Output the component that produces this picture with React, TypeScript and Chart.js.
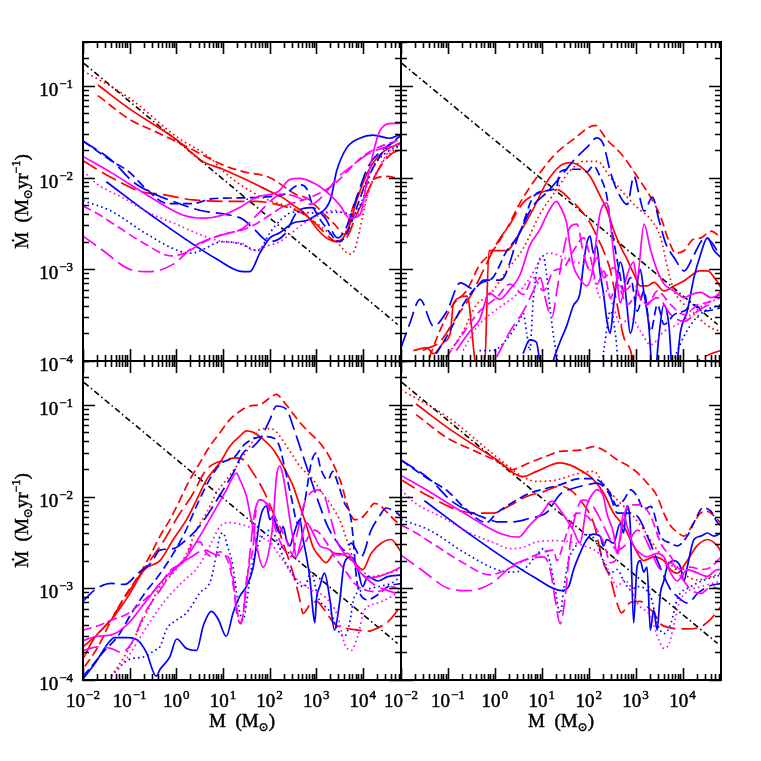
import React, { useEffect, useRef } from "react";
import { Chart, registerables } from "chart.js";
Chart.register(...registerables);

// ---------- axes ----------
const X_MIN = 0.01;
const X_MAX = 66000;
const Y_MIN = 1e-4;
const Y_MAX = 0.3;
const xMajorTicks = [0.01, 0.1, 1, 10, 100, 1000, 10000];
const xTickExps = ["\u22122", "\u22121", "0", "1", "2", "3", "4"];
const yMajorTicks = [1e-4, 1e-3, 1e-2, 1e-1];
const yTickExps = ["\u22124", "\u22123", "\u22122", "\u22121"];

// reference power-law line (black dash-dot), same in every panel
const refLine: [number, number][] = [[0.0105, 0.175], [56000, 0.00025]];

// ---------- top-left panel ----------
const tlRedDotted: [number, number][] = [[0.01, 0.146], [0.1, 0.073], [1, 0.028], [5.6, 0.016], [10, 0.0118], [29, 0.0078], [100, 0.0056], [300, 0.0047], [780, 0.0035], [2000, 0.0024], [4050, 0.0016], [5000, 0.00146], [6600, 0.0016], [8600, 0.0027], [12800, 0.0066], [27300, 0.015], [52600, 0.021], [66000, 0.023]];
const tlRedSolid: [number, number][] = [[0.021, 0.102], [0.1, 0.056], [1, 0.026], [3.7, 0.015], [10, 0.0123], [27, 0.0098], [100, 0.0071], [196, 0.006], [321, 0.005], [621, 0.0039], [1016, 0.0028], [1660, 0.0022], [2730, 0.002], [3790, 0.0022], [5260, 0.0031], [7300, 0.0055], [12000, 0.0107], [23100, 0.0177], [52600, 0.0228], [66000, 0.024]];
const tlRedDashed: [number, number][] = [[0.021, 0.078], [0.1, 0.043], [0.34, 0.032], [1.39, 0.0228], [10, 0.0137], [27, 0.0116], [100, 0.01], [379, 0.0065], [621, 0.006], [1280, 0.0043], [2470, 0.0031], [4050, 0.0024], [5260, 0.0037], [7300, 0.006], [15100, 0.0092], [32100, 0.0103], [66000, 0.0096]];
const tlRedLong: [number, number][] = [[0.01, 0.0152], [0.0405, 0.01], [0.178, 0.007], [0.44, 0.0066], [2.28, 0.0057], [13.9, 0.0055], [52.6, 0.0055], [164, 0.005], [447, 0.0042], [731, 0.0036], [1660, 0.0024], [2730, 0.002], [4470, 0.0022], [7300, 0.0039], [12000, 0.0066], [21000, 0.0118], [40500, 0.018], [66000, 0.0203]];
const tlBlueDashed: [number, number][] = [[0.01, 0.025], [0.0405, 0.0152], [0.1, 0.0114], [0.21, 0.0078], [0.663, 0.0052], [2.28, 0.0052], [6.1, 0.0059], [27, 0.006], [100, 0.0062], [196, 0.0065], [447, 0.0083], [621, 0.0076], [862, 0.0048], [1660, 0.0028], [3210, 0.002], [4470, 0.0024], [7300, 0.0046], [12000, 0.0091], [27300, 0.019], [56000, 0.027], [66000, 0.0285]];
const tlBlueLong: [number, number][] = [[0.01, 0.025], [0.0405, 0.0155], [0.118, 0.009], [0.268, 0.007], [0.849, 0.0055], [3.16, 0.0044], [13.9, 0.0039], [26.8, 0.0035], [47.7, 0.0027], [100, 0.002], [210, 0.0024], [405, 0.0043], [781, 0.0047], [1510, 0.0037], [2910, 0.0022], [4770, 0.0031], [7810, 0.0066], [12800, 0.0129], [24700, 0.0195], [66000, 0.027]];
const tlBlueSolid: [number, number][] = [[0.0316, 0.009], [0.268, 0.004], [7.2, 0.0013], [26.8, 0.00094], [37.9, 0.00094], [62, 0.0015], [102, 0.0022], [166, 0.0025], [321, 0.0032], [621, 0.0034], [1016, 0.0039], [1660, 0.0047], [2100, 0.0061], [2730, 0.0116], [4470, 0.0209], [8600, 0.0268], [16600, 0.029], [37900, 0.0268], [62000, 0.029], [66000, 0.029]];
const tlBlueDotted: [number, number][] = [[0.01, 0.0056], [0.0405, 0.0043], [0.21, 0.0025], [1.09, 0.0016], [2.1, 0.0015], [10, 0.002], [22.8, 0.0019], [56, 0.0016], [102, 0.0025], [178, 0.0035], [343, 0.0042], [1016, 0.0041], [2910, 0.0042], [6200, 0.004], [10200, 0.006], [15100, 0.0118], [29100, 0.018], [66000, 0.023]];
const tlMagSolid: [number, number][] = [[0.01, 0.017], [0.0405, 0.0113], [0.21, 0.0067], [1.39, 0.0039], [3.73, 0.0036], [10, 0.0039], [22.8, 0.0047], [52.6, 0.0061], [151, 0.007], [273, 0.0095], [447, 0.0098], [1016, 0.0084], [1960, 0.0065], [3210, 0.005], [5260, 0.0036], [8600, 0.0039], [12800, 0.01], [23100, 0.032], [44700, 0.039], [66000, 0.039]];
const tlMagDotted: [number, number][] = [[0.01, 0.0118], [0.02, 0.0085], [0.078, 0.0059], [0.268, 0.0041], [1, 0.0031], [3.16, 0.0024], [10, 0.002], [26.8, 0.0019], [44.7, 0.0016], [90, 0.0018], [166, 0.002], [273, 0.0024], [663, 0.0034], [1200, 0.0039], [2470, 0.0044], [5260, 0.0039], [8600, 0.004], [15100, 0.0085], [33000, 0.018], [66000, 0.025]];
const tlMagDashed: [number, number][] = [[0.01, 0.0049], [0.021, 0.004], [0.056, 0.0029], [0.21, 0.0019], [0.781, 0.0014], [1.51, 0.0015], [4.05, 0.002], [10, 0.0024], [26.8, 0.0027], [56.2, 0.0032], [109, 0.004], [210, 0.0049], [477, 0.0056], [1086, 0.0066], [2470, 0.0085], [4770, 0.0118], [9200, 0.0165], [21000, 0.0212], [66000, 0.026]];
const tlMagLong: [number, number][] = [[0.01, 0.0023], [0.0268, 0.0016], [0.1, 0.001], [0.268, 0.00094], [0.849, 0.00113], [2.47, 0.0018], [7.8, 0.0023], [26.8, 0.0028], [56.2, 0.004], [100, 0.0054], [178, 0.0066], [405, 0.0061], [781, 0.0051], [1510, 0.0066], [2910, 0.01], [6600, 0.014], [12800, 0.018], [29100, 0.0212], [66000, 0.023]];

// ---------- top-right panel ----------
const trRedDashed: [number, number][] = [[0.0405, 0.00011], [0.0663, 0.00021], [0.128, 0.00041], [0.247, 0.00058], [0.469, 0.0011], [0.906, 0.0016], [1.75, 0.0027], [3.38, 0.0052], [6.52, 0.0088], [17.5, 0.017], [46.9, 0.026], [140, 0.037], [175, 0.033], [243, 0.026], [469, 0.0186], [769, 0.0133], [1069, 0.0103], [2095, 0.0061], [3434, 0.0037], [5176, 0.002], [7197, 0.0015], [10860, 0.0016], [16380, 0.0021], [24700, 0.0022], [40460, 0.0026], [66000, 0.0022]];
const trRedSolid: [number, number][] = [[0.0184, 0.00013], [0.0355, 0.00014], [0.0493, 0.00012], [0.0807, 0.00016], [0.112, 0.0002], [0.132, 0.00043], [0.255, 0.00051], [0.42, 0.00008], [0.6, 0.00008], [0.75, 0.0016], [1.32, 0.0016], [1.75, 0.0016], [3.38, 0.0025], [6.52, 0.0045], [12.6, 0.0088], [24.3, 0.0133], [39.8, 0.0145], [65.2, 0.0133], [107, 0.0103], [175, 0.0063], [243, 0.0045], [338, 0.0027], [469, 0.0018], [652, 0.0013], [906, 0.0009], [1259, 0.00066], [1778, 0.00066], [2470, 0.00072], [4046, 0.00058], [6623, 0.00066], [10860, 0.00075], [15090, 0.00085], [22750, 0.00096], [34340, 0.00096], [47720, 0.00081], [66000, 0.00063]];
const trRedDotted: [number, number][] = [[0.092, 0.00011], [0.21, 0.00021], [0.405, 0.00041], [0.781, 0.00053], [1.78, 0.00096], [4.05, 0.0017], [9.2, 0.004], [17.8, 0.0066], [39.8, 0.0118], [78, 0.015], [151, 0.015], [291, 0.01], [663, 0.0061], [1086, 0.0047], [2095, 0.0035], [3434, 0.0022], [4772, 0.00104], [6623, 0.00058], [10860, 0.00041], [20950, 0.0003], [40460, 0.00023], [66000, 0.00021]];
const trRedLong: [number, number][] = [[0.0291, 0.00013], [0.0405, 0.00014], [0.0663, 0.00016], [0.151, 0.0003], [0.291, 0.00049], [0.562, 0.00096], [1.09, 0.0019], [2.1, 0.0031], [3.98, 0.0053], [9.06, 0.0068], [20.6, 0.0074], [39.8, 0.0058], [65.2, 0.0045], [107, 0.0032], [148, 0.0023], [206, 0.0016], [291, 0.00096], [405, 0.00041], [562, 0.00018], [781, 0.00013], [1086, 0.00006], [2095, 0.00006], [4046, 0.00009], [9205, 0.00006], [20950, 0.0001], [40460, 0.00012], [66000, 0.00013]];
const trBlueLong: [number, number][] = [[0.01, 0.00014], [0.0151, 0.00025], [0.0255, 0.00047], [0.0493, 0.00024], [0.0952, 0.00035], [0.184, 0.00071], [0.355, 0.00061], [0.581, 0.00076], [1.32, 0.00076], [3.38, 0.0025], [6.52, 0.0049], [12.6, 0.0068], [24.3, 0.01], [46.9, 0.0152], [90.6, 0.0212], [148, 0.027], [206, 0.023], [286, 0.0118], [405, 0.0072], [663, 0.0051], [921, 0.0104], [1178, 0.0066], [1509, 0.0043], [2275, 0.0061], [3162, 0.0034], [4395, 0.0019], [6623, 0.00134], [10860, 0.00096], [16380, 0.00134], [24700, 0.002], [31620, 0.0022], [43950, 0.0019], [66000, 0.00134]];
const trBlueDashed: [number, number][] = [[0.0562, 0.00012], [0.109, 0.00021], [0.21, 0.00041], [0.469, 0.00069], [0.906, 0.00081], [1.75, 0.00155], [3.38, 0.0025], [6.52, 0.0061], [12.6, 0.0072], [20.6, 0.0078], [24.3, 0.0115], [39.8, 0.0123], [65.2, 0.0123], [90.6, 0.0115], [126, 0.0134], [175, 0.0102], [243, 0.0063], [286, 0.0035], [338, 0.0021], [447, 0.00096], [562, 0.00058], [781, 0.00081], [1086, 0.00035], [1509, 0.00058], [2095, 0.00021], [2911, 0.00041], [4046, 0.00025], [6623, 0.00032], [10860, 0.00035], [17780, 0.00041], [29110, 0.00035], [66000, 0.00038]];
const trBlueSolid: [number, number][] = [[3.98, 0.00012], [5.53, 0.00017], [7.69, 0.00016], [9.06, 0.0001], [12.6, 0.00005], [17.5, 0.0001], [24.3, 0.00016], [33.8, 0.00024], [46.9, 0.0004], [65.2, 0.00055], [76.9, 0.0011], [90.6, 0.0019], [107, 0.0023], [126, 0.0015], [148, 0.0018], [175, 0.0009], [206, 0.00055], [243, 0.00028], [286, 0.0002], [338, 0.0004], [398, 0.00077], [469, 0.0012], [553, 0.0009], [652, 0.0004], [769, 0.0002], [906, 0.00028], [1069, 0.00066], [1259, 0.001], [1484, 0.00058], [1900, 0.00025], [2430, 0.00005], [3110, 0.00018], [3981, 0.00041], [5096, 0.00025], [6518, 0.00005], [9061, 0.00021], [12590, 0.00035], [17490, 0.00081], [24300, 0.00146], [33780, 0.0022], [46900, 0.0016], [66000, 0.00134]];
const trBlueDotted: [number, number][] = [[0.469, 0.00013], [0.906, 0.00013], [1.75, 0.00017], [3.38, 0.00028], [4.05, 0.00033], [4.77, 0.0002], [5.53, 0.00013], [6.63, 0.00049], [9.06, 0.0013], [10.7, 0.0014], [12.6, 0.0009], [14.8, 0.0004], [17.5, 0.0002], [20.6, 0.00012], [29.1, 0.00005], [151, 0.00005], [210, 0.00013], [291, 0.00035], [379, 0.00018], [477, 0.00005], [4046, 0.00005], [7814, 0.00013], [15090, 0.00025], [29110, 0.00035], [66000, 0.00041]];
const trMagSolid: [number, number][] = [[0.151, 0.00013], [0.291, 0.00021], [0.469, 0.00028], [0.769, 0.00055], [1.26, 0.00047], [2.06, 0.0006], [3.38, 0.00085], [5.53, 0.0018], [9.06, 0.0027], [14.8, 0.0045], [20.6, 0.0055], [24.3, 0.0049], [33.8, 0.0032], [39.8, 0.0018], [46.9, 0.0011], [65.2, 0.00078], [90.6, 0.00066], [126, 0.0011], [148, 0.0023], [175, 0.0041], [243, 0.0053], [286, 0.0034], [338, 0.0015], [398, 0.00078], [469, 0.00043], [652, 0.00085], [906, 0.0012], [1069, 0.00078], [1509, 0.0031], [2095, 0.0016], [2911, 0.00096], [4046, 0.00069], [6623, 0.00058], [10860, 0.00049], [15090, 0.00053], [24700, 0.00056], [40460, 0.00049], [66000, 0.00053]];
const trMagDotted: [number, number][] = [[0.21, 0.00013], [0.405, 0.00023], [0.781, 0.00032], [1.51, 0.00041], [2.91, 0.00053], [5.62, 0.00081], [10.7, 0.0014], [14.8, 0.0015], [24.3, 0.0014], [46.9, 0.0012], [90.6, 0.0011], [128, 0.00081], [178, 0.00049], [247, 0.00058], [343, 0.00038], [477, 0.00025], [781, 0.0003], [1280, 0.00021], [2095, 0.00015], [4046, 0.00021], [7814, 0.00025], [15090, 0.00032], [29110, 0.00041], [66000, 0.00049]];
const trMagDashed: [number, number][] = [[0.092, 0.00011], [0.21, 0.0002], [0.477, 0.00035], [1.09, 0.00049], [2.1, 0.00069], [4.05, 0.00053], [6.63, 0.00081], [10.9, 0.00058], [17.8, 0.00096], [29.1, 0.00104], [47.7, 0.0016], [78, 0.0022], [109, 0.00134], [151, 0.00069], [210, 0.00096], [291, 0.00049], [405, 0.00069], [663, 0.00041], [1086, 0.00053], [1778, 0.00041], [2911, 0.00058], [5623, 0.00041], [10860, 0.00032], [20950, 0.00041], [40460, 0.00045], [66000, 0.00058]];
const trMagLong: [number, number][] = [[1.09, 0.00011], [2.1, 0.00021], [4.05, 0.00035], [6.63, 0.00058], [9.21, 0.00081], [12.8, 0.00041], [16.4, 0.0003], [21, 0.00058], [29.1, 0.0016], [40.5, 0.0029], [56.2, 0.0031], [78, 0.00146], [109, 0.00096], [151, 0.00134], [210, 0.00081], [343, 0.00104], [562, 0.00058], [921, 0.00069], [1509, 0.00041], [2911, 0.00049], [5623, 0.00032], [10860, 0.00027], [20950, 0.00035], [40460, 0.00041], [66000, 0.00038]];

// ---------- bottom-left panel ----------
const blRedDashed: [number, number][] = [[0.0109, 0.00014], [0.021, 0.00023], [0.0405, 0.00045], [0.0781, 0.00081], [0.151, 0.00134], [0.291, 0.0024], [0.447, 0.0037], [0.731, 0.0056], [1.2, 0.0092], [1.96, 0.0153], [3.21, 0.0233], [5.26, 0.0354], [8.62, 0.0495], [14.1, 0.069], [23.1, 0.085], [37.9, 0.097], [62.1, 0.1], [102, 0.119], [141, 0.13], [196, 0.11], [273, 0.089], [447, 0.064], [731, 0.0495], [1199, 0.0385], [2095, 0.025], [3434, 0.014], [4772, 0.0078], [6623, 0.0056], [9205, 0.0058], [12790, 0.0069], [17780, 0.0084], [24700, 0.0078], [34340, 0.0066], [56230, 0.0052], [66000, 0.0051]];
const blRedSolid: [number, number][] = [[0.01, 0.00017], [0.0178, 0.00029], [0.0405, 0.00045], [0.092, 0.00081], [0.21, 0.0016], [0.447, 0.002], [0.862, 0.0034], [1.66, 0.0056], [2.73, 0.0092], [4.47, 0.0153], [8.62, 0.0233], [14.1, 0.0354], [23.1, 0.0455], [32.1, 0.052], [44.7, 0.05], [73.1, 0.042], [120, 0.0326], [196, 0.0214], [321, 0.013], [447, 0.0079], [621, 0.0048], [862, 0.0028], [1199, 0.0022], [1638, 0.0019], [2470, 0.0024], [4046, 0.0023], [6623, 0.0019], [10000, 0.0016], [15090, 0.0024], [24700, 0.0031], [40460, 0.0034], [66000, 0.0025]];
const blRedDotted: [number, number][] = [[0.0405, 0.00011], [0.092, 0.00021], [0.21, 0.00049], [0.447, 0.00104], [0.862, 0.00147], [1.66, 0.0024], [2.73, 0.0044], [4.47, 0.0066], [7.31, 0.011], [12, 0.0153], [19.6, 0.0214], [27.3, 0.0276], [37.9, 0.0354], [62.1, 0.054], [86.2, 0.055], [120, 0.054], [166, 0.0455], [231, 0.0354], [321, 0.0276], [447, 0.0214], [862, 0.0153], [1199, 0.0119], [2095, 0.0081], [3434, 0.0051], [4772, 0.0031], [6623, 0.002], [9205, 0.0016], [15090, 0.00134], [24700, 0.0014], [40460, 0.0015], [66000, 0.0016]];
const blRedLong: [number, number][] = [[0.01, 0.00023], [0.021, 0.00032], [0.0405, 0.00047], [0.0781, 0.00078], [0.151, 0.0013], [0.291, 0.0021], [0.562, 0.0034], [1.09, 0.0061], [2.1, 0.01], [4.47, 0.0197], [12, 0.0253], [19.6, 0.0264], [27.3, 0.0253], [44.7, 0.018], [73.1, 0.0118], [120, 0.0066], [196, 0.0031], [321, 0.00146], [447, 0.00075], [526, 0.00053], [731, 0.00066], [1016, 0.00072], [1509, 0.00058], [2470, 0.00041], [4046, 0.00037], [7814, 0.00035], [12790, 0.00034], [20950, 0.00037], [34340, 0.00043], [56230, 0.00058], [66000, 0.00066]];
const blBlueLong: [number, number][] = [[0.01, 0.00072], [0.0178, 0.00096], [0.0405, 0.00113], [0.0781, 0.0011], [0.151, 0.00146], [0.291, 0.0019], [0.447, 0.0026], [0.862, 0.0027], [1.66, 0.0034], [3.21, 0.0048], [6.21, 0.0079], [10.2, 0.0119], [16.6, 0.018], [27.3, 0.03], [44.7, 0.035], [62.1, 0.042], [102, 0.069], [141, 0.097], [231, 0.089], [321, 0.058], [447, 0.035], [621, 0.0214], [862, 0.013], [1199, 0.0079], [1778, 0.0047], [2911, 0.0031], [4046, 0.0026], [5623, 0.0031], [9205, 0.0022], [15090, 0.0043], [22750, 0.0061], [31620, 0.0075], [47720, 0.0069], [66000, 0.0061]];
const blBlueDashed: [number, number][] = [[0.01, 0.00011], [0.0151, 0.00014], [0.0291, 0.00021], [0.0562, 0.0003], [0.109, 0.00053], [0.21, 0.00088], [0.405, 0.00134], [0.781, 0.0022], [1.51, 0.004], [2.91, 0.0085], [5.62, 0.0165], [9.21, 0.023], [17.8, 0.027], [29.1, 0.037], [47.7, 0.043], [78, 0.045], [128, 0.043], [164, 0.035], [210, 0.021], [291, 0.01], [405, 0.0051], [562, 0.0085], [781, 0.023], [1000, 0.0297], [1280, 0.0195], [1778, 0.0152], [2275, 0.0188], [2911, 0.014], [4046, 0.0085], [5623, 0.0056], [7814, 0.00104], [12790, 0.00075], [20950, 0.00085], [34340, 0.00104], [66000, 0.00113]];
const blBlueSolid: [number, number][] = [[0.01, 0.000103], [0.0178, 0.00015], [0.0343, 0.00025], [0.0477, 0.00029], [0.092, 0.00029], [0.151, 0.00027], [0.228, 0.0002], [0.373, 0.00011], [0.447, 0.00013], [0.731, 0.00018], [1.02, 0.00028], [1.66, 0.00022], [2.73, 0.00021], [3.79, 0.00039], [5.71, 0.00056], [7.94, 0.00046], [11.8, 0.0003], [16.6, 0.00054], [23.1, 0.00082], [32.1, 0.00105], [44.7, 0.0017], [62.1, 0.0056], [86.2, 0.0079], [102, 0.0056], [120, 0.0061], [141, 0.0047], [166, 0.004], [196, 0.0047], [231, 0.0034], [273, 0.0029], [321, 0.0037], [447, 0.0056], [526, 0.0034], [621, 0.0022], [731, 0.0013], [862, 0.00054], [936, 0.00042], [1016, 0.00076], [1199, 0.00105], [1509, 0.00146], [1931, 0.00081], [2470, 0.00035], [3162, 0.00069], [4046, 0.0019], [5623, 0.0022], [7814, 0.0016], [9900, 0.00104], [12790, 0.00134], [20950, 0.0012], [34340, 0.00134], [66000, 0.0014]];
const blBlueDotted: [number, number][] = [[0.0477, 0.00012], [0.092, 0.000165], [0.21, 0.00018], [0.343, 0.00021], [0.447, 0.00023], [0.621, 0.00036], [1.02, 0.00045], [1.66, 0.00054], [3.21, 0.00089], [5.53, 0.00124], [7.31, 0.0024], [8.62, 0.0037], [10.2, 0.004], [12, 0.0031], [16.6, 0.0017], [19.6, 0.00089], [23.1, 0.00054], [27.3, 0.00045], [32.1, 0.00069], [40.5, 0.0016], [56.2, 0.0029], [78.1, 0.004], [109, 0.0043], [151, 0.0031], [210, 0.002], [291, 0.0015], [405, 0.00113], [562, 0.00104], [781, 0.0015], [1086, 0.00081], [2095, 0.00053], [2911, 0.00035], [4046, 0.0003], [5176, 0.00041], [6623, 0.00081], [10860, 0.00096], [20950, 0.00104], [40460, 0.00113], [66000, 0.00134]];
const blMagSolid: [number, number][] = [[0.01, 0.00027], [0.021, 0.0003], [0.0405, 0.00031], [0.092, 0.00041], [0.21, 0.00069], [0.447, 0.00113], [0.862, 0.0016], [1.66, 0.0022], [3.21, 0.0037], [6.21, 0.0066], [12, 0.0119], [19.6, 0.018], [23.1, 0.0153], [32.1, 0.01], [37.9, 0.0066], [44.7, 0.0044], [52.6, 0.0029], [73.1, 0.0017], [102, 0.0029], [120, 0.0056], [141, 0.0166], [166, 0.0214], [196, 0.0166], [231, 0.01], [273, 0.0056], [321, 0.0034], [379, 0.0022], [447, 0.0029], [621, 0.0052], [862, 0.004], [1199, 0.0029], [1778, 0.0027], [2911, 0.0023], [4772, 0.0024], [7814, 0.0016], [12790, 0.0013], [20950, 0.00134], [34340, 0.00146], [66000, 0.0017]];
const blMagDotted: [number, number][] = [[0.0405, 0.00011], [0.092, 0.00018], [0.21, 0.00035], [0.405, 0.00058], [0.781, 0.00088], [1.51, 0.00123], [2.91, 0.0017], [5.62, 0.0031], [8.62, 0.0047], [14.1, 0.0052], [23.1, 0.005], [37.9, 0.0046], [62.1, 0.0037], [109, 0.0031], [151, 0.0024], [210, 0.0019], [291, 0.00146], [405, 0.00123], [781, 0.00096], [1509, 0.00081], [2911, 0.00049], [4046, 0.00025], [5623, 0.00021], [7814, 0.0003], [10860, 0.00058], [20950, 0.00069], [40460, 0.00081], [66000, 0.00096]];
const blMagDashed: [number, number][] = [[0.01, 0.00035], [0.021, 0.00039], [0.0405, 0.00045], [0.092, 0.00053], [0.21, 0.00075], [0.405, 0.00104], [0.781, 0.0016], [1.51, 0.002], [2.31, 0.0031], [3.21, 0.0032], [4.47, 0.0024], [6.21, 0.0022], [8.62, 0.0025], [14.1, 0.0017], [19.6, 0.00064], [23.1, 0.00042], [27.3, 0.00053], [32.1, 0.00124], [44.7, 0.0029], [52.6, 0.0079], [62.1, 0.0092], [86.2, 0.0085], [128, 0.0061], [210, 0.0037], [343, 0.0022], [562, 0.0031], [921, 0.0043], [1509, 0.0034], [2470, 0.0022], [4046, 0.0016], [6623, 0.00113], [10860, 0.00096], [20950, 0.00092], [40460, 0.00104], [66000, 0.00096]];
const blMagLong: [number, number][] = [[0.01, 0.00021], [0.021, 0.00023], [0.0405, 0.00022], [0.0663, 0.0002], [0.109, 0.00025], [0.21, 0.00053], [0.405, 0.00088], [0.921, 0.0016], [2.1, 0.0022], [4.05, 0.0026], [7.81, 0.0023], [12.8, 0.0022], [16.4, 0.00134], [19.3, 0.00058], [24.7, 0.00041], [29.1, 0.00069], [37.3, 0.0022], [47.7, 0.0066], [66.3, 0.0092], [92.1, 0.0078], [151, 0.0037], [210, 0.0026], [291, 0.0022], [405, 0.0043], [562, 0.0085], [781, 0.0111], [1086, 0.0118], [1509, 0.01], [2095, 0.0056], [2911, 0.0031], [4046, 0.0024], [6623, 0.0019], [10860, 0.00134], [20950, 0.00104], [40460, 0.00092], [66000, 0.00085]];

// ---------- bottom-right panel ----------
const brRedDotted: [number, number][] = [[0.01, 0.146], [0.1, 0.073], [1, 0.028], [4.05, 0.0163], [7.8, 0.0146], [21, 0.0152], [56.2, 0.0177], [128, 0.0188], [210, 0.0134], [405, 0.0092], [781, 0.0066], [1510, 0.0043], [2910, 0.0026], [5620, 0.0018], [10900, 0.0014], [21000, 0.00123], [40500, 0.00134], [66000, 0.00146]];
const brRedSolid: [number, number][] = [[0.021, 0.102], [0.1, 0.056], [1, 0.026], [4.05, 0.0165], [7.8, 0.0188], [24.3, 0.0233], [40.5, 0.022], [65, 0.0195], [126, 0.0153], [206, 0.011], [338, 0.0066], [553, 0.0048], [906, 0.0029], [1480, 0.002], [2430, 0.0022], [3980, 0.002], [5530, 0.0016], [7690, 0.00146], [12600, 0.002], [20300, 0.0029], [33800, 0.0034], [55300, 0.0029], [66000, 0.0025]];
const brRedDashed: [number, number][] = [[0.021, 0.078], [0.1, 0.043], [0.34, 0.032], [1.39, 0.0228], [2.1, 0.0195], [5.6, 0.0235], [12.8, 0.0277], [24.3, 0.031], [65, 0.032], [126, 0.035], [206, 0.032], [398, 0.0253], [906, 0.0197], [1750, 0.0141], [2870, 0.0101], [3980, 0.0066], [5530, 0.0048], [7690, 0.0041], [10700, 0.0037], [17500, 0.0052], [24300, 0.0066], [33800, 0.0069], [47700, 0.0061], [66000, 0.0051]];
const brRedLong: [number, number][] = [[0.01, 0.0152], [0.0405, 0.01], [0.178, 0.007], [0.44, 0.0066], [0.92, 0.0066], [2.1, 0.008], [4.77, 0.01], [10.9, 0.0113], [24.3, 0.013], [39.8, 0.0119], [65, 0.0092], [126, 0.0052], [206, 0.0019], [286, 0.0013], [398, 0.0007], [500, 0.00054], [769, 0.0007], [1260, 0.00072], [1750, 0.00063], [2430, 0.00054], [3380, 0.00041], [5530, 0.00037], [12600, 0.00036], [24300, 0.00038], [39800, 0.00046], [65000, 0.00063]];
const brBlueDashed: [number, number][] = [[0.01, 0.025], [0.0405, 0.0152], [0.1, 0.0114], [0.21, 0.0078], [0.663, 0.0052], [1.09, 0.0066], [2.28, 0.0085], [5.6, 0.0109], [12.8, 0.0123], [24.3, 0.0134], [65, 0.0157], [126, 0.0157], [206, 0.0136], [286, 0.0109], [398, 0.0079], [562, 0.0092], [781, 0.0118], [1086, 0.01], [1510, 0.0072], [2100, 0.0078], [3380, 0.0037], [5530, 0.0031], [7690, 0.0029], [12600, 0.0037], [17500, 0.0052], [27300, 0.0075], [40500, 0.0069], [55300, 0.0052], [66000, 0.0048]];
const brBlueLong: [number, number][] = [[0.01, 0.025], [0.0405, 0.0155], [0.118, 0.009], [0.268, 0.007], [0.849, 0.0055], [1.09, 0.0053], [2.47, 0.0053], [5.6, 0.0058], [12.8, 0.0067], [24.3, 0.0105], [47.7, 0.0123], [92, 0.0134], [148, 0.014], [206, 0.0129], [291, 0.01], [405, 0.0066], [663, 0.0066], [1086, 0.0061], [1780, 0.0037], [2910, 0.002], [4050, 0.00134], [5620, 0.00096], [7810, 0.00081], [12800, 0.00069], [21000, 0.00088], [34300, 0.00104], [66000, 0.00113]];
const brBlueSolid: [number, number][] = [[0.0316, 0.009], [0.268, 0.004], [7.2, 0.0013], [26.8, 0.00094], [37.3, 0.00104], [47.7, 0.0016], [65, 0.0024], [90.6, 0.0034], [126, 0.0039], [175, 0.0037], [206, 0.0029], [243, 0.0034], [338, 0.0031], [469, 0.0051], [553, 0.004], [652, 0.0079], [769, 0.0048], [906, 0.00042], [1069, 0.0017], [1259, 0.002], [1484, 0.0015], [1749, 0.0017], [2063, 0.00035], [2430, 0.00058], [2865, 0.00035], [3378, 0.00089], [3981, 0.0012], [4690, 0.0017], [6518, 0.002], [9061, 0.0017], [10690, 0.0012], [12590, 0.0017], [17490, 0.0034], [24300, 0.0037], [33780, 0.004], [46900, 0.0037], [66000, 0.004]];
const brBlueDotted: [number, number][] = [[0.01, 0.0056], [0.0405, 0.0043], [0.21, 0.0025], [1.09, 0.0016], [2.1, 0.0015], [4.05, 0.0016], [7.8, 0.0023], [10.9, 0.0027], [15.1, 0.0019], [19.3, 0.00096], [24.7, 0.00053], [29.1, 0.00096], [37.3, 0.002], [56.2, 0.003], [92, 0.0039], [151, 0.0031], [210, 0.0019], [291, 0.00146], [405, 0.0016], [562, 0.0012], [781, 0.00096], [1086, 0.00104], [2095, 0.00081], [2911, 0.00041], [4046, 0.00032], [5623, 0.00041], [7814, 0.00078], [15090, 0.00104], [29110, 0.00123], [66000, 0.0014]];
const brMagSolid: [number, number][] = [[0.01, 0.017], [0.0405, 0.0113], [0.21, 0.0067], [1.39, 0.0039], [3.16, 0.0036], [5.6, 0.0049], [10, 0.0066], [16.4, 0.0089], [24.3, 0.0072], [33.8, 0.0056], [46.9, 0.0043], [65.2, 0.0031], [90.6, 0.0079], [126, 0.011], [148, 0.0118], [206, 0.01], [243, 0.0066], [338, 0.004], [398, 0.0024], [469, 0.0037], [553, 0.0066], [652, 0.0048], [906, 0.0029], [1259, 0.0024], [1749, 0.0022], [2865, 0.0024], [3981, 0.0022], [5533, 0.00148], [7685, 0.0012], [12590, 0.0016], [20000, 0.00148], [33780, 0.00135], [55330, 0.0016], [66000, 0.0016]];
const brMagDotted: [number, number][] = [[0.01, 0.0118], [0.02, 0.0085], [0.078, 0.0059], [0.268, 0.0041], [1, 0.0031], [2.1, 0.0027], [4.05, 0.0028], [7.8, 0.0032], [17.8, 0.0033], [40.5, 0.0032], [78, 0.0029], [151, 0.0025], [210, 0.002], [291, 0.0014], [405, 0.00104], [562, 0.00123], [781, 0.00104], [1086, 0.00069], [2095, 0.00049], [2911, 0.0003], [4046, 0.00022], [5176, 0.00025], [6623, 0.00041], [8483, 0.00069], [12790, 0.00092], [24700, 0.00104], [66000, 0.0012]];
const brMagDashed: [number, number][] = [[0.01, 0.0049], [0.021, 0.004], [0.056, 0.0029], [0.21, 0.0019], [0.781, 0.0014], [1.78, 0.0016], [4.05, 0.002], [9.2, 0.0024], [17.8, 0.0026], [21, 0.002], [29.1, 0.0031], [40.5, 0.0051], [56.2, 0.0066], [92, 0.0061], [151, 0.0043], [210, 0.0031], [291, 0.0019], [405, 0.0022], [562, 0.0061], [781, 0.0081], [1280, 0.0081], [2095, 0.0061], [3434, 0.0031], [5623, 0.0022], [9205, 0.0016], [15090, 0.0017], [24700, 0.0016], [40460, 0.0017], [66000, 0.0022]];
const brMagLong: [number, number][] = [[0.01, 0.0023], [0.0268, 0.0016], [0.1, 0.001], [0.268, 0.00094], [0.849, 0.00113], [2.47, 0.0018], [5.6, 0.0021], [10.9, 0.0022], [15.1, 0.0016], [19.3, 0.00075], [24.7, 0.00041], [31.6, 0.00081], [40.5, 0.0031], [56.2, 0.0072], [78, 0.0092], [109, 0.0085], [151, 0.0066], [247, 0.004], [405, 0.0026], [663, 0.0031], [1086, 0.0043], [1509, 0.0037], [2095, 0.0026], [3434, 0.0016], [5623, 0.0019], [9205, 0.00134], [15090, 0.00096], [24700, 0.00088], [40460, 0.00104], [66000, 0.00096]];

// ---------- styles ----------
const RED = "#ff0000";
const BLUE = "#0000ff";
const MAG = "#ff00ff";
const DASHES: Record<string, number[]> = {
  solid: [],
  dotted: [1.6, 3.2],
  dashed: [9, 4.5],
  long: [16, 6],
};
const FONT = '"Liberation Serif", "DejaVu Serif", serif';

type Series = { data: [number, number][]; color: string; dash: string };
type Panel = {
  series: Series[];
  area: { left: number; top: number; right: number; bottom: number };
  xLabels: boolean;
  yLabels: boolean;
};

const W = 761;
const H = 761;

function S(data: [number, number][], color: string, dash: string): Series {
  return { data, color, dash };
}

const PANELS: Panel[] = [
  {
    area: { left: 83, top: 42, right: 401, bottom: 361 },
    xLabels: false,
    yLabels: true,
    series: [
      S(tlMagLong, MAG, "long"), S(tlMagDashed, MAG, "dashed"), S(tlMagDotted, MAG, "dotted"), S(tlMagSolid, MAG, "solid"),
      S(tlBlueDotted, BLUE, "dotted"), S(tlBlueLong, BLUE, "long"), S(tlBlueDashed, BLUE, "dashed"), S(tlBlueSolid, BLUE, "solid"),
      S(tlRedLong, RED, "long"), S(tlRedDashed, RED, "dashed"), S(tlRedDotted, RED, "dotted"), S(tlRedSolid, RED, "solid"),
    ],
  },
  {
    area: { left: 401, top: 42, right: 721, bottom: 361 },
    xLabels: false,
    yLabels: false,
    series: [
      S(trMagLong, MAG, "long"), S(trMagDashed, MAG, "dashed"), S(trMagDotted, MAG, "dotted"), S(trMagSolid, MAG, "solid"),
      S(trBlueDotted, BLUE, "dotted"), S(trBlueLong, BLUE, "long"), S(trBlueDashed, BLUE, "dashed"), S(trBlueSolid, BLUE, "solid"),
      S(trRedLong, RED, "long"), S(trRedDashed, RED, "dashed"), S(trRedDotted, RED, "dotted"), S(trRedSolid, RED, "solid"),
    ],
  },
  {
    area: { left: 83, top: 361, right: 401, bottom: 680 },
    xLabels: true,
    yLabels: true,
    series: [
      S(blMagLong, MAG, "long"), S(blMagDashed, MAG, "dashed"), S(blMagDotted, MAG, "dotted"), S(blMagSolid, MAG, "solid"),
      S(blBlueDotted, BLUE, "dotted"), S(blBlueLong, BLUE, "long"), S(blBlueDashed, BLUE, "dashed"), S(blBlueSolid, BLUE, "solid"),
      S(blRedLong, RED, "long"), S(blRedDashed, RED, "dashed"), S(blRedDotted, RED, "dotted"), S(blRedSolid, RED, "solid"),
    ],
  },
  {
    area: { left: 401, top: 361, right: 721, bottom: 680 },
    xLabels: true,
    yLabels: false,
    series: [
      S(brMagLong, MAG, "long"), S(brMagDashed, MAG, "dashed"), S(brMagDotted, MAG, "dotted"), S(brMagSolid, MAG, "solid"),
      S(brBlueDotted, BLUE, "dotted"), S(brBlueLong, BLUE, "long"), S(brBlueDashed, BLUE, "dashed"), S(brBlueSolid, BLUE, "solid"),
      S(brRedLong, RED, "long"), S(brRedDashed, RED, "dashed"), S(brRedDotted, RED, "dotted"), S(brRedSolid, RED, "solid"),
    ],
  },
];

// ---------- drawing helpers ----------
const LABEL_PX = 19;
const SUP_PX = 13;

function txt(ctx: CanvasRenderingContext2D, t: string, x: number, y: number) {
  ctx.fillText(t, x, y);
  ctx.strokeText(t, x, y);
}

function drawPower(ctx: CanvasRenderingContext2D, exp: string, x: number, y: number, align: "center" | "right") {
  ctx.font = `${LABEL_PX}px ${FONT}`;
  const wb = ctx.measureText("10").width;
  ctx.font = `${SUP_PX}px ${FONT}`;
  const we = ctx.measureText(exp).width;
  const total = wb + 1 + we;
  const x0 = align === "center" ? x - total / 2 : x - total;
  ctx.textAlign = "left";
  ctx.textBaseline = "alphabetic";
  ctx.font = `${LABEL_PX}px ${FONT}`;
  txt(ctx, "10", x0, y);
  ctx.font = `${SUP_PX}px ${FONT}`;
  txt(ctx, exp, x0 + wb + 1, y - 8);
}

type Part = { t: string; size: number; dy: number };
function drawParts(ctx: CanvasRenderingContext2D, parts: Part[], cx: number, y: number) {
  let total = 0;
  for (const p of parts) {
    ctx.font = `${p.size}px ${FONT}`;
    total += ctx.measureText(p.t).width;
  }
  let x = cx - total / 2;
  ctx.textAlign = "left";
  ctx.textBaseline = "alphabetic";
  for (const p of parts) {
    ctx.font = `${p.size}px ${FONT}`;
    txt(ctx, p.t, x, y + p.dy);
    x += ctx.measureText(p.t).width;
  }
}

const xTitleParts: Part[] = [
  { t: "M  (M", size: 19, dy: 0 },
  { t: "\u2299", size: 12, dy: 4 },
  { t: ")", size: 19, dy: 0 },
];
const yTitleParts: Part[] = [
  { t: "\u1E40  (M", size: 19, dy: 0 },
  { t: "\u2299", size: 12, dy: 4 },
  { t: "yr", size: 19, dy: 0 },
  { t: "\u22121", size: 12, dy: -8 },
  { t: ")", size: 19, dy: 0 },
];

function makeFramePlugin(panel: Panel) {
  return {
    id: "frameTicks",
    afterDraw(chart: any) {
      const ctx: CanvasRenderingContext2D = chart.ctx;
      const a = chart.chartArea;
      const xs = chart.scales.x;
      const ys = chart.scales.y;
      ctx.save();
      ctx.strokeStyle = "#000";
      ctx.fillStyle = "#000";
      ctx.lineWidth = 1.6;
      ctx.setLineDash([]);
      ctx.beginPath();
      for (let e = -2; e <= 4; e++) {
        for (let m = 1; m <= 9; m++) {
          const v = m * Math.pow(10, e);
          if (v < X_MIN * 0.999 || v > X_MAX) continue;
          const px = Math.round(xs.getPixelForValue(v)) + 0.5;
          const len = m === 1 ? 12 : 6;
          ctx.moveTo(px, a.bottom);
          ctx.lineTo(px, a.bottom - len);
          ctx.moveTo(px, a.top);
          ctx.lineTo(px, a.top + len);
        }
      }
      for (let e = -4; e <= -1; e++) {
        for (let m = 1; m <= 9; m++) {
          const v = m * Math.pow(10, e);
          if (v < Y_MIN * 0.999 || v > Y_MAX * 1.001) continue;
          const py = Math.round(ys.getPixelForValue(v)) + 0.5;
          const len = m === 1 ? 12 : 6;
          ctx.moveTo(a.left, py);
          ctx.lineTo(a.left + len, py);
          ctx.moveTo(a.right, py);
          ctx.lineTo(a.right - len, py);
        }
      }
      ctx.stroke();
      ctx.lineWidth = 2;
      ctx.strokeRect(a.left, a.top, a.right - a.left, a.bottom - a.top);

      ctx.lineWidth = 0.45;
      if (panel.xLabels) {
        xMajorTicks.forEach((v, i) => {
          const px = xs.getPixelForValue(v);
          drawPower(ctx, xTickExps[i], px, a.bottom + 27, "center");
        });
        drawParts(ctx, xTitleParts, (a.left + a.right) / 2, a.bottom + 47);
      }
      if (panel.yLabels) {
        yMajorTicks.forEach((v, i) => {
          const py = ys.getPixelForValue(v);
          drawPower(ctx, yTickExps[i], a.left - 10, py + 10, "right");
        });
        ctx.save();
        ctx.translate(28, (a.top + a.bottom) / 2);
        ctx.rotate(-Math.PI / 2);
        drawParts(ctx, yTitleParts, 0, 0);
        ctx.restore();
      }
      ctx.restore();
    },
  };
}

function makeConfig(panel: Panel): any {
  const datasets: any[] = panel.series.map((s) => ({
    data: s.data.map(([x, y]) => ({ x, y })),
    borderColor: s.color,
    borderDash: DASHES[s.dash],
    borderWidth: 1.7,
    pointRadius: 0,
    fill: false,
    cubicInterpolationMode: "monotone",
    clip: 0,
  }));
  datasets.push({
    data: refLine.map(([x, y]) => ({ x, y })),
    borderColor: "#000",
    borderDash: [6, 3, 1.5, 3],
    borderWidth: 1.6,
    pointRadius: 0,
    fill: false,
    clip: 0,
  });
  const a = panel.area;
  return {
    type: "line",
    data: { datasets },
    options: {
      animation: false,
      responsive: false,
      devicePixelRatio: 1,
      events: [],
      layout: { padding: { left: a.left, top: a.top, right: W - a.right, bottom: H - a.bottom } },
      plugins: { legend: { display: false }, tooltip: { enabled: false } },
      scales: {
        x: { type: "logarithmic", min: X_MIN, max: X_MAX, display: false },
        y: { type: "logarithmic", min: Y_MIN, max: Y_MAX, display: false },
      },
    },
    plugins: [makeFramePlugin(panel)],
  };
}

export default function App() {
  const r0 = useRef<HTMLCanvasElement>(null);
  const r1 = useRef<HTMLCanvasElement>(null);
  const r2 = useRef<HTMLCanvasElement>(null);
  const r3 = useRef<HTMLCanvasElement>(null);
  const refs = [r0, r1, r2, r3];
  useEffect(() => {
    const charts = PANELS.map((p, i) => new Chart(refs[i].current as HTMLCanvasElement, makeConfig(p)));
    return () => charts.forEach((c) => c.destroy());
  }, []);
  return (
    <div style={{ position: "absolute", left: 0, top: 0, width: W, height: H, background: "#fff" }}>
      {PANELS.map((_, i) => (
        <canvas key={i} ref={refs[i]} width={W} height={H} style={{ position: "absolute", left: 0, top: 0, width: W, height: H }} />
      ))}
    </div>
  );
}
